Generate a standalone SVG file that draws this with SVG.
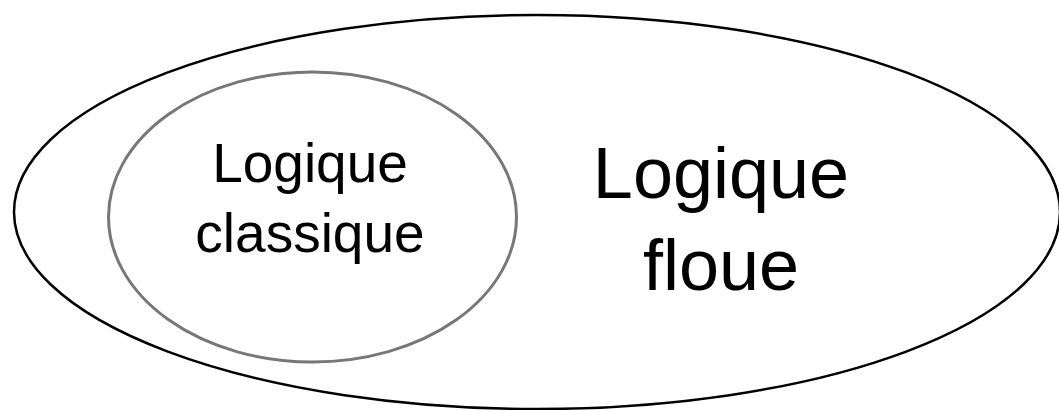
<svg xmlns="http://www.w3.org/2000/svg" width="1059" height="410" viewBox="0 0 1059 410">
<style>
.t{font-family:"Liberation Sans",Arial,sans-serif;fill:#000;text-anchor:middle}
</style>
<rect width="1059" height="410" fill="#fff"/>
<g id="floue">
<ellipse cx="537" cy="212" rx="523" ry="197" fill="none" stroke="#000" stroke-width="2.5"/>
<text class="t" x="721" y="198" font-size="72">Logique</text>
<text class="t" x="721" y="290" font-size="72">floue</text>
</g>
<g id="classique">
<ellipse cx="312.5" cy="217" rx="204" ry="145" fill="none" stroke="#777" stroke-width="3"/>
<text class="t" x="310" y="182" font-size="55">Logique</text>
<text class="t" x="310" y="252" font-size="55">classique</text>
</g>
<g id="connectors"/>
</svg>
